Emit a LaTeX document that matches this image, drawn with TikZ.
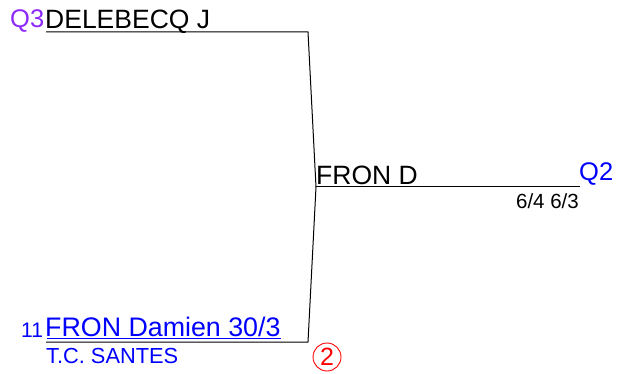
\documentclass[tikz,border=0pt]{standalone}
\usepackage{fontspec}
\setmainfont{Liberation Sans}
\definecolor{qpurple}{RGB}{140,40,250}
\definecolor{qblue}{RGB}{0,0,255}
\definecolor{qred}{RGB}{255,0,0}
\tikzset{
  lbl/.style={inner sep=0pt, anchor=base west},
  bline/.style={line width=1pt, draw=black},
}
\begin{document}
\begin{tikzpicture}[x=1pt,y=-1pt]
\useasboundingbox (0,0) rectangle (618,374);
% connector coordinates
\coordinate (t0) at (46,32);
\coordinate (t1) at (308,32);
\coordinate (m0) at (316,187);
\coordinate (m1) at (580,187);
\coordinate (b0) at (46,342);
\coordinate (b1) at (308,342);
\draw[bline] (t0) -- (t1) -- (m0) -- (b1) -- (b0);
\draw[bline] (m0) -- (m1);
% texts
\node[lbl, text=qpurple, font=\fontsize{25.5}{25}\selectfont] (q3) at (10,28) {Q3};
\node[lbl, font=\fontsize{26.5}{25}\selectfont] (p1) at (45,29) {DELEBECQ J};
\node[lbl, font=\fontsize{26.5}{25}\selectfont] (w) at (316,185) {FRON D};
\node[lbl, text=qblue, font=\fontsize{25.5}{25}\selectfont] (q2) at (579,181) {Q2};
\node[inner sep=0pt, anchor=base east, font=\fontsize{20.5}{20}\selectfont] (sc) at (579,208) {6/4 6/3};
\node[lbl, text=qblue, font=\fontsize{21}{21}\selectfont] (seed) at (21,337) {11};
\node[lbl, text=qblue, font=\fontsize{26.8}{26}\selectfont] (p2) at (45,336.5) {FRON Damien 30/3};
\draw[qblue, line width=0.9pt] (p2.base west) ++(2,2) -- ([yshift=-2pt]p2.base east);
\node[lbl, text=qblue, font=\fontsize{21.8}{21}\selectfont] (club) at (46,363) {T.C. SANTES};
\node[circle, draw=qred, line width=0.9pt, minimum size=28pt, inner sep=0pt, text=qred, font=\fontsize{25}{25}\selectfont] (c2) at (327,357) {2};
\end{tikzpicture}
\end{document}
